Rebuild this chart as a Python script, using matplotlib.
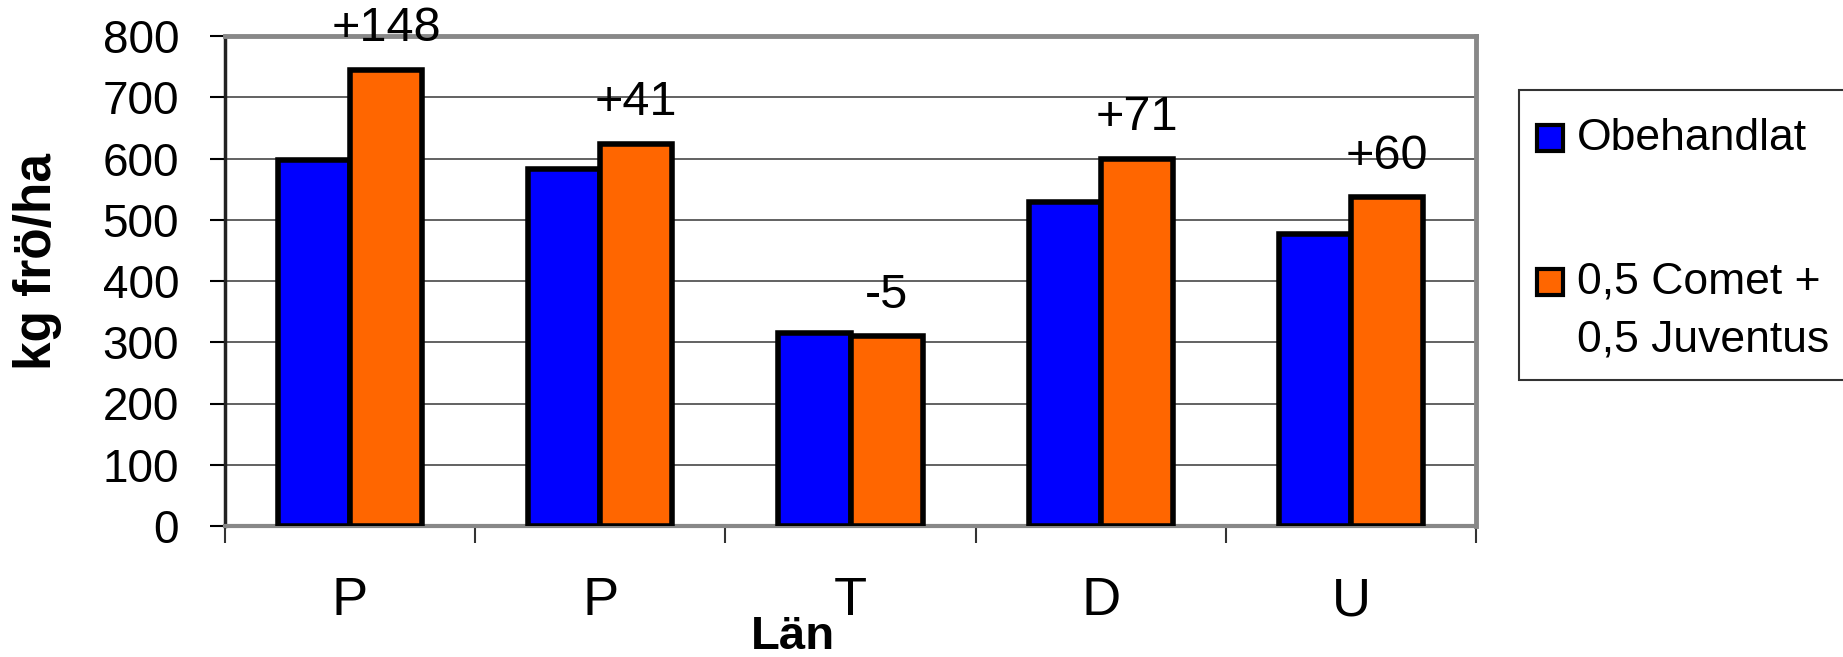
import numpy as np
import matplotlib
matplotlib.use("Agg")
import matplotlib.pyplot as plt
from matplotlib.patches import Rectangle

plt.rcParams['font.family'] = ['Liberation Sans', 'DejaVu Sans']

# data
lan = ['P', 'P', 'T', 'D', 'U']
obehandlat = [597, 583, 315, 529, 477]
comet_juventus = [745, 624, 310, 600, 537]
diff_labels = ['+148', '+41', '-5', '+71', '+60']
series_names = ['Obehandlat', '0,5 Comet +\n0,5 Juventus']
series_colors = ['#0000FF', '#FF6600']
yticks = [0, 100, 200, 300, 400, 500, 600, 700, 800]

W, H = 1843, 657
fig = plt.figure(figsize=(W / 100, H / 100), dpi=100)
ax = fig.add_axes([225 / W, 1 - 526 / H, (1476 - 225) / W, (526 - 36) / H])

x = np.arange(len(lan))
w = 0.288
ax.bar(x - w / 2, obehandlat, w, color=series_colors[0], edgecolor='black',
       linewidth=4, zorder=3)
ax.bar(x + w / 2, comet_juventus, w, color=series_colors[1], edgecolor='black',
       linewidth=4, zorder=3)

for xi, v, lab in zip(x, comet_juventus, diff_labels):
    ax.text(xi + w / 2, v + 67, lab, ha='center', va='center', fontsize=35,
            clip_on=False, zorder=5)

ax.set_xlim(-0.5, len(lan) - 0.5)
ax.set_ylim(0, 800)
ax.set_yticks(yticks)
ax.set_yticklabels([str(t) for t in yticks], fontsize=33)
ax.yaxis.grid(True, color='#555555', linewidth=1.3, zorder=0)
ax.tick_params(axis='y', length=11, width=1.5, color='black', pad=22)

# category boundaries as major ticks, labels on minor ticks
ax.set_xticks(np.arange(-0.5, len(lan), 1.0))
ax.set_xticklabels([])
ax.set_xticks(x, minor=True)
ax.set_xticklabels(lan, minor=True, fontsize=39)
ax.tick_params(axis='x', which='major', length=12, width=1.5, color='#333333')
ax.tick_params(axis='x', which='minor', length=0, pad=36)

for s in ['top', 'right']:
    ax.spines[s].set_color('#888888')
    ax.spines[s].set_linewidth(3.5)
ax.spines['bottom'].set_color('#888888')
ax.spines['bottom'].set_linewidth(3)
ax.spines['left'].set_color('#222222')
ax.spines['left'].set_linewidth(2.5)

fig.text(38 / W, 1 - 262 / H, 'kg frö/ha', rotation=90, ha='center',
         va='center', fontsize=37, fontweight='bold')
fig.text(793 / W, 1 - 649 / H, 'Län', ha='center', va='baseline',
         fontsize=34, fontweight='bold')

# legend box drawn by hand to match the layout
fig.add_artist(Rectangle((1519 / W, 1 - 380 / H), (W - 1519 + 20) / W, 290 / H,
                         transform=fig.transFigure, facecolor='white',
                         edgecolor='#333333', linewidth=1.5))
entry_y = [138, 282]
for name, col, yy in zip(series_names, series_colors, entry_y):
    fig.add_artist(Rectangle((1537 / W, 1 - (yy + 13) / H), 26 / W, 26 / H,
                             transform=fig.transFigure, facecolor=col,
                             edgecolor='black', linewidth=3))
    for k, line in enumerate(name.split('\n')):
        fig.text(1577 / W, 1 - (yy + 58 * k) / H, line, ha='left',
                 va='center', fontsize=32)

fig.savefig('out.png', dpi=100)
